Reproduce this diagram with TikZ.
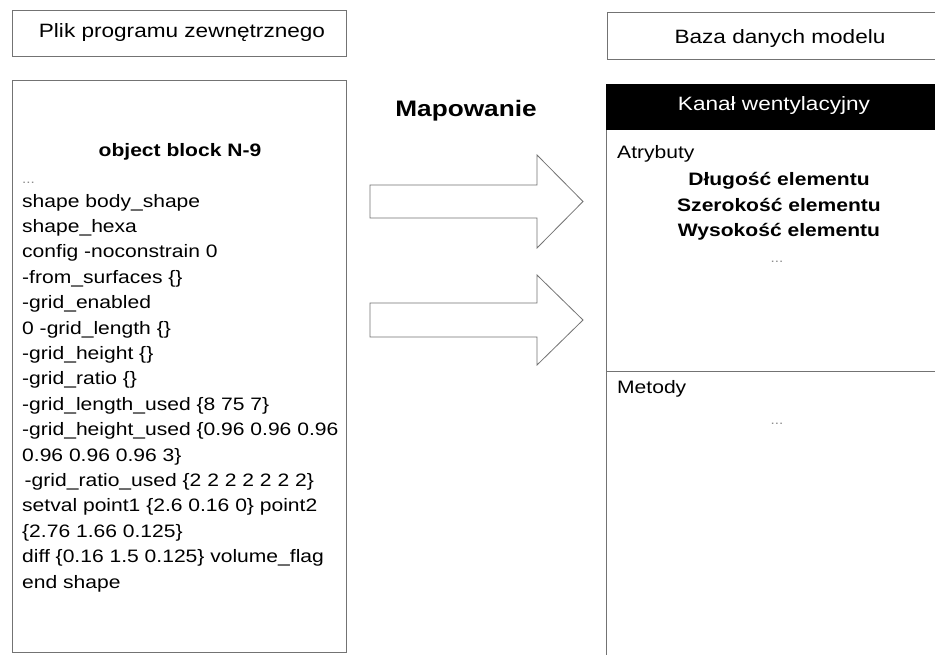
\documentclass[tikz,border=0pt]{standalone}
\usepackage{fontspec}
\setmainfont{Liberation Sans}[FakeStretch=1.17]
\begin{document}
\begin{tikzpicture}[x=1pt,y=-1pt,
  box/.style={draw=black!55, line width=0.8pt, fill=white},
  body/.style={font=\fontsize{18}{25.4}\selectfont, inner sep=0pt},
  bodybold/.style={font=\fontsize{18}{25.4}\selectfont\bfseries, inner sep=0pt},
  title/.style={font=\fontsize{19.3}{22}\selectfont, inner sep=0pt},
  dots/.style={font=\fontsize{13}{15}\selectfont, text=black!45, inner sep=0pt},
  blockarrow/.style={draw=black!55, line width=0.8pt, fill=white, line join=miter}]
\useasboundingbox (0,0) rectangle (935,654);
\clip (0,0) rectangle (935,654);
\fill[white] (0,0) rectangle (935,654);

% left side
\node[box, anchor=north west, minimum width=334pt, minimum height=46pt] (exttitle) at (12,10) {};
\node[title, anchor=base] (exttext) at (182,37) {Plik programu zewnętrznego};
\node[box, anchor=north west, minimum width=334pt, minimum height=572pt] (code) at (12,80) {};
\node[bodybold, anchor=base] (codehdr) at (180,156) {object block N-9};
\node[dots, anchor=base west] (codedots) at (22,183) {...};
\foreach \t [count=\i from 0] in {
  shape body\_shape,
  shape\_hexa,
  config -noconstrain 0,
  -from\_surfaces \{\},
  -grid\_enabled,
  0 -grid\_length \{\},
  -grid\_height \{\},
  -grid\_ratio \{\},
  -grid\_length\_used \{8 75 7\},
  -grid\_height\_used \{0.96 0.96 0.96,
  0.96 0.96 0.96 3\},
  \hspace{2.5pt}-grid\_ratio\_used \{2 2 2 2 2 2 2\},
  setval point1 \{2.6 0.16 0\} point2,
  \{2.76 1.66 0.125\},
  diff \{0.16 1.5 0.125\} volume\_flag,
  end shape}
  \node[body, anchor=base west] (line\i) at (22,207+\i*25.4) {\t};

% middle
\node[font=\fontsize{22.4}{26}\selectfont\bfseries, inner sep=0pt, anchor=base] (map) at (466,116) {Mapowanie};
\coordinate (a1) at (370,201.5);
\draw[blockarrow] (a1) ++(0,-16.5) -- ++(167,0) -- ++(0,-30) -- (583,201.5) -- (537,248) -- ++(0,-30) -- (370,218) -- cycle;
\coordinate (a2) at (370,320);
\draw[blockarrow] (a2) ++(0,-17) -- ++(167,0) -- ++(0,-28) -- (583,320) -- (537,365) -- ++(0,-28) -- (370,337) -- cycle;

% right side
\node[box, anchor=north west, minimum width=350pt, minimum height=47pt] (dbtitle) at (607,12) {};
\node[title, anchor=base] (dbtext) at (780,43) {Baza danych modelu};
\node[box, anchor=north west, minimum width=355pt, minimum height=600pt] (cls) at (606,84) {};
\fill[black] (606,84) rectangle (965,130);
\node[title, text=white, anchor=base] (clsname) at (774,110) {Kanał wentylacyjny};
\draw[draw=black!55, line width=0.8pt] (606,371) -- (965,371);
\node[body, anchor=base west] (attr) at (617,158) {Atrybuty};
\node[bodybold, anchor=base] (a1t) at (779,185) {Długość elementu};
\node[bodybold, anchor=base] (a2t) at (779,211) {Szerokość elementu};
\node[bodybold, anchor=base] (a3t) at (779,236) {Wysokość elementu};
\node[dots, anchor=base] (attrdots) at (777,262) {...};
\node[body, anchor=base west] (meth) at (617,393) {Metody};
\node[dots, anchor=base] (methdots) at (777,424) {...};
\end{tikzpicture}
\end{document}
